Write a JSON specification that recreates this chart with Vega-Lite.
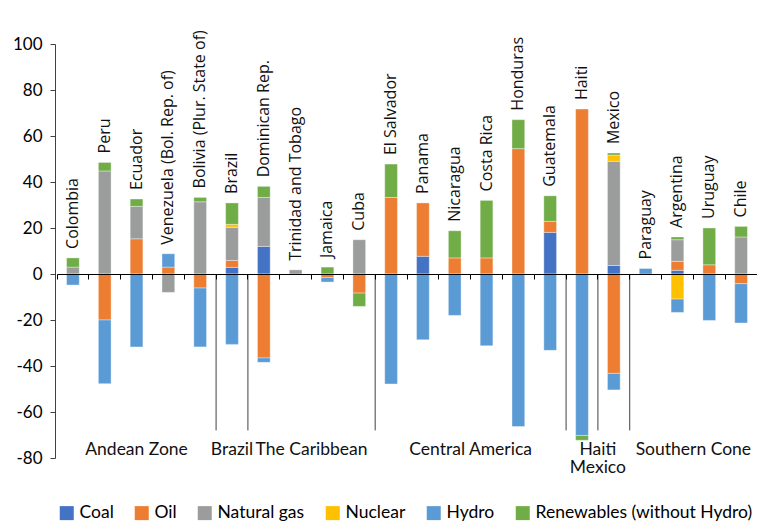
{
  "$schema": "https://vega.github.io/schema/vega-lite/v6.json",
  "autosize": {"type": "none"},
  "padding": {"left": 57, "top": 44, "right": 0, "bottom": 65},
  "width": 700,
  "height": 414,
  "background": "white",
  "config": {"view": {"stroke": null}},
  "datasets": {
    "energy": [
      {"country": "Colombia", "source": "Natural gas", "k": 3, "value": 3.0},
      {"country": "Colombia", "source": "Renewables (without Hydro)", "k": 6, "value": 4.0},
      {"country": "Colombia", "source": "Hydro", "k": 5, "value": -4.8},
      {"country": "Peru", "source": "Natural gas", "k": 3, "value": 44.8},
      {"country": "Peru", "source": "Renewables (without Hydro)", "k": 6, "value": 3.7},
      {"country": "Peru", "source": "Oil", "k": 2, "value": -20.0},
      {"country": "Peru", "source": "Hydro", "k": 5, "value": -27.7},
      {"country": "Ecuador", "source": "Oil", "k": 2, "value": 15.3},
      {"country": "Ecuador", "source": "Natural gas", "k": 3, "value": 14.1},
      {"country": "Ecuador", "source": "Renewables (without Hydro)", "k": 6, "value": 3.2},
      {"country": "Ecuador", "source": "Hydro", "k": 5, "value": -31.7},
      {"country": "Venezuela (Bol. Rep. of)", "source": "Oil", "k": 2, "value": 3.0},
      {"country": "Venezuela (Bol. Rep. of)", "source": "Hydro", "k": 5, "value": 5.8},
      {"country": "Venezuela (Bol. Rep. of)", "source": "Natural gas", "k": 3, "value": -8.0},
      {"country": "Bolivia (Plur. State of)", "source": "Natural gas", "k": 3, "value": 31.4},
      {"country": "Bolivia (Plur. State of)", "source": "Renewables (without Hydro)", "k": 6, "value": 1.9},
      {"country": "Bolivia (Plur. State of)", "source": "Oil", "k": 2, "value": -6.1},
      {"country": "Bolivia (Plur. State of)", "source": "Hydro", "k": 5, "value": -25.6},
      {"country": "Brazil", "source": "Coal", "k": 1, "value": 2.9},
      {"country": "Brazil", "source": "Oil", "k": 2, "value": 3.0},
      {"country": "Brazil", "source": "Natural gas", "k": 3, "value": 14.4},
      {"country": "Brazil", "source": "Nuclear", "k": 4, "value": 1.3},
      {"country": "Brazil", "source": "Renewables (without Hydro)", "k": 6, "value": 9.3},
      {"country": "Brazil", "source": "Hydro", "k": 5, "value": -30.6},
      {"country": "Dominican Rep.", "source": "Coal", "k": 1, "value": 12.0},
      {"country": "Dominican Rep.", "source": "Natural gas", "k": 3, "value": 21.3},
      {"country": "Dominican Rep.", "source": "Renewables (without Hydro)", "k": 6, "value": 4.8},
      {"country": "Dominican Rep.", "source": "Oil", "k": 2, "value": -36.5},
      {"country": "Dominican Rep.", "source": "Hydro", "k": 5, "value": -1.9},
      {"country": "Trinidad and Tobago", "source": "Natural gas", "k": 3, "value": 1.8},
      {"country": "Jamaica", "source": "Renewables (without Hydro)", "k": 6, "value": 3.0},
      {"country": "Jamaica", "source": "Oil", "k": 2, "value": -1.5},
      {"country": "Jamaica", "source": "Hydro", "k": 5, "value": -2.0},
      {"country": "Cuba", "source": "Natural gas", "k": 3, "value": 14.9},
      {"country": "Cuba", "source": "Oil", "k": 2, "value": -8.3},
      {"country": "Cuba", "source": "Renewables (without Hydro)", "k": 6, "value": -5.8},
      {"country": "El Salvador", "source": "Oil", "k": 2, "value": 33.3},
      {"country": "El Salvador", "source": "Renewables (without Hydro)", "k": 6, "value": 14.5},
      {"country": "El Salvador", "source": "Hydro", "k": 5, "value": -47.8},
      {"country": "Panama", "source": "Coal", "k": 1, "value": 7.7},
      {"country": "Panama", "source": "Oil", "k": 2, "value": 23.2},
      {"country": "Panama", "source": "Hydro", "k": 5, "value": -28.6},
      {"country": "Nicaragua", "source": "Oil", "k": 2, "value": 7.0},
      {"country": "Nicaragua", "source": "Renewables (without Hydro)", "k": 6, "value": 11.8},
      {"country": "Nicaragua", "source": "Hydro", "k": 5, "value": -18.0},
      {"country": "Costa Rica", "source": "Oil", "k": 2, "value": 7.0},
      {"country": "Costa Rica", "source": "Renewables (without Hydro)", "k": 6, "value": 25.0},
      {"country": "Costa Rica", "source": "Hydro", "k": 5, "value": -31.2},
      {"country": "Honduras", "source": "Oil", "k": 2, "value": 54.5},
      {"country": "Honduras", "source": "Renewables (without Hydro)", "k": 6, "value": 12.6},
      {"country": "Honduras", "source": "Hydro", "k": 5, "value": -66.3},
      {"country": "Guatemala", "source": "Coal", "k": 1, "value": 18.1},
      {"country": "Guatemala", "source": "Oil", "k": 2, "value": 4.8},
      {"country": "Guatemala", "source": "Renewables (without Hydro)", "k": 6, "value": 11.1},
      {"country": "Guatemala", "source": "Hydro", "k": 5, "value": -33.2},
      {"country": "Haiti", "source": "Oil", "k": 2, "value": 71.7},
      {"country": "Haiti", "source": "Hydro", "k": 5, "value": -70.2},
      {"country": "Haiti", "source": "Renewables (without Hydro)", "k": 6, "value": -2.1},
      {"country": "Mexico", "source": "Coal", "k": 1, "value": 3.7},
      {"country": "Mexico", "source": "Natural gas", "k": 3, "value": 45.3},
      {"country": "Mexico", "source": "Nuclear", "k": 4, "value": 2.7},
      {"country": "Mexico", "source": "Renewables (without Hydro)", "k": 6, "value": 0.9},
      {"country": "Mexico", "source": "Oil", "k": 2, "value": -43.2},
      {"country": "Mexico", "source": "Hydro", "k": 5, "value": -7.2},
      {"country": "Paraguay", "source": "Hydro", "k": 5, "value": 2.4},
      {"country": "Argentina", "source": "Coal", "k": 1, "value": 1.6},
      {"country": "Argentina", "source": "Oil", "k": 2, "value": 3.9},
      {"country": "Argentina", "source": "Natural gas", "k": 3, "value": 9.4},
      {"country": "Argentina", "source": "Renewables (without Hydro)", "k": 6, "value": 1.2},
      {"country": "Argentina", "source": "Nuclear", "k": 4, "value": -10.9},
      {"country": "Argentina", "source": "Hydro", "k": 5, "value": -5.8},
      {"country": "Uruguay", "source": "Oil", "k": 2, "value": 4.0},
      {"country": "Uruguay", "source": "Renewables (without Hydro)", "k": 6, "value": 16.0},
      {"country": "Uruguay", "source": "Hydro", "k": 5, "value": -20.2},
      {"country": "Chile", "source": "Natural gas", "k": 3, "value": 16.1},
      {"country": "Chile", "source": "Renewables (without Hydro)", "k": 6, "value": 4.6},
      {"country": "Chile", "source": "Oil", "k": 2, "value": -4.2},
      {"country": "Chile", "source": "Hydro", "k": 5, "value": -17.1}
    ],
    "groupsMid": [
      {"group": "Andean Zone", "at": "Ecuador"},
      {"group": "Brazil", "at": "Brazil"}
    ],
    "groupsEdge": [
      {"group": "The Caribbean", "at": "Jamaica"},
      {"group": "Central America", "at": "Costa Rica"},
      {"group": "Haiti\nMexico", "at": "Mexico"},
      {"group": "Southern Cone", "at": "Uruguay"}
    ],
    "separators": [
      {"at": "Brazil"},
      {"at": "Dominican Rep."},
      {"at": "El Salvador"},
      {"at": "Haiti"},
      {"at": "Mexico"},
      {"at": "Paraguay"}
    ]
  },
  "layer": [
    {
      "data": {"name": "energy"},
      "mark": {"type": "bar", "width": {"band": 0.4}, "stroke": "#ffffff", "strokeWidth": 0.6, "strokeOpacity": 0.6},
      "encoding": {
        "x": {
          "field": "country", "type": "nominal",
          "scale": {
            "domain": ["Colombia", "Peru", "Ecuador", "Venezuela (Bol. Rep. of)", "Bolivia (Plur. State of)", "Brazil", "Dominican Rep.", "Trinidad and Tobago", "Jamaica", "Cuba", "El Salvador", "Panama", "Nicaragua", "Costa Rica", "Honduras", "Guatemala", "Haiti", "Mexico", "Paraguay", "Argentina", "Uruguay", "Chile"],
            "paddingInner": 0, "paddingOuter": 0
          },
          "axis": {
            "orient": "bottom", "offset": -184, "labels": false, "title": null,
            "bandPosition": 0, "tickSize": 5, "tickColor": "#000000", "domainColor": "#000000",
            "domainWidth": 1, "tickWidth": 1, "zindex": 1, "grid": false
          }
        },
        "y": {
          "field": "value", "type": "quantitative", "stack": "zero",
          "scale": {"domain": [-80, 100], "nice": false, "zero": false},
          "axis": {
            "title": null, "grid": false, "values": [-80, -60, -40, -20, 0, 20, 40, 60, 80, 100],
            "labelExpr": "'' + datum.value", "offset": 2,
            "domainColor": "#404040", "tickColor": "#404040", "tickSize": 5,
            "labelFont": "Lato", "labelFontSize": 17, "labelColor": "#000000", "labelPadding": 8
          }
        },
        "color": {
          "field": "source", "type": "nominal",
          "scale": {
            "domain": ["Coal", "Oil", "Natural gas", "Nuclear", "Hydro", "Renewables (without Hydro)"],
            "range": ["#4472C4", "#ED7D31", "#9B9D9D", "#FFC000", "#5B9BD5", "#70AD47"]
          },
          "legend": {
            "orient": "none", "legendX": 1, "legendY": 460, "direction": "horizontal",
            "title": null, "symbolType": "square", "symbolSize": 196, "symbolStrokeWidth": 0,
            "labelFont": "Lato", "labelFontSize": 17.5, "labelColor": "#000000",
            "labelOffset": 4, "columnPadding": 19, "padding": 0, "labelLimit": 400
          }
        },
        "order": {"field": "k", "type": "quantitative"}
      }
    },
    {
      "data": {"name": "energy"},
      "transform": [
        {"filter": "datum.value > 0"},
        {"aggregate": [{"op": "sum", "field": "value", "as": "top"}], "groupby": ["country"]}
      ],
      "mark": {"type": "text", "angle": 270, "align": "left", "baseline": "middle", "dx": 9, "font": "Open Sans", "fontSize": 16, "color": "#111111"},
      "encoding": {
        "x": {"field": "country", "type": "nominal"},
        "y": {"field": "top", "type": "quantitative"},
        "text": {"field": "country", "type": "nominal"}
      }
    },
    {
      "data": {"name": "separators"},
      "mark": {"type": "rule", "color": "#404040", "strokeWidth": 1},
      "encoding": {
        "x": {"field": "at", "type": "nominal", "bandPosition": 0},
        "y": {"datum": 0},
        "y2": {"datum": -68}
      }
    },
    {
      "data": {"name": "groupsMid"},
      "mark": {"type": "text", "align": "center", "baseline": "top", "font": "Lato", "fontSize": 17.5, "color": "#111111", "lineBreak": "\n", "lineHeight": 18},
      "encoding": {
        "x": {"field": "at", "type": "nominal", "bandPosition": 0.5},
        "y": {"datum": -72.5},
        "text": {"field": "group", "type": "nominal"}
      }
    },
    {
      "data": {"name": "groupsEdge"},
      "mark": {"type": "text", "align": "center", "baseline": "top", "font": "Lato", "fontSize": 17.5, "color": "#111111", "lineBreak": "\n", "lineHeight": 18},
      "encoding": {
        "x": {"field": "at", "type": "nominal", "bandPosition": 0},
        "y": {"datum": -72.5},
        "text": {"field": "group", "type": "nominal"}
      }
    }
  ]
}
